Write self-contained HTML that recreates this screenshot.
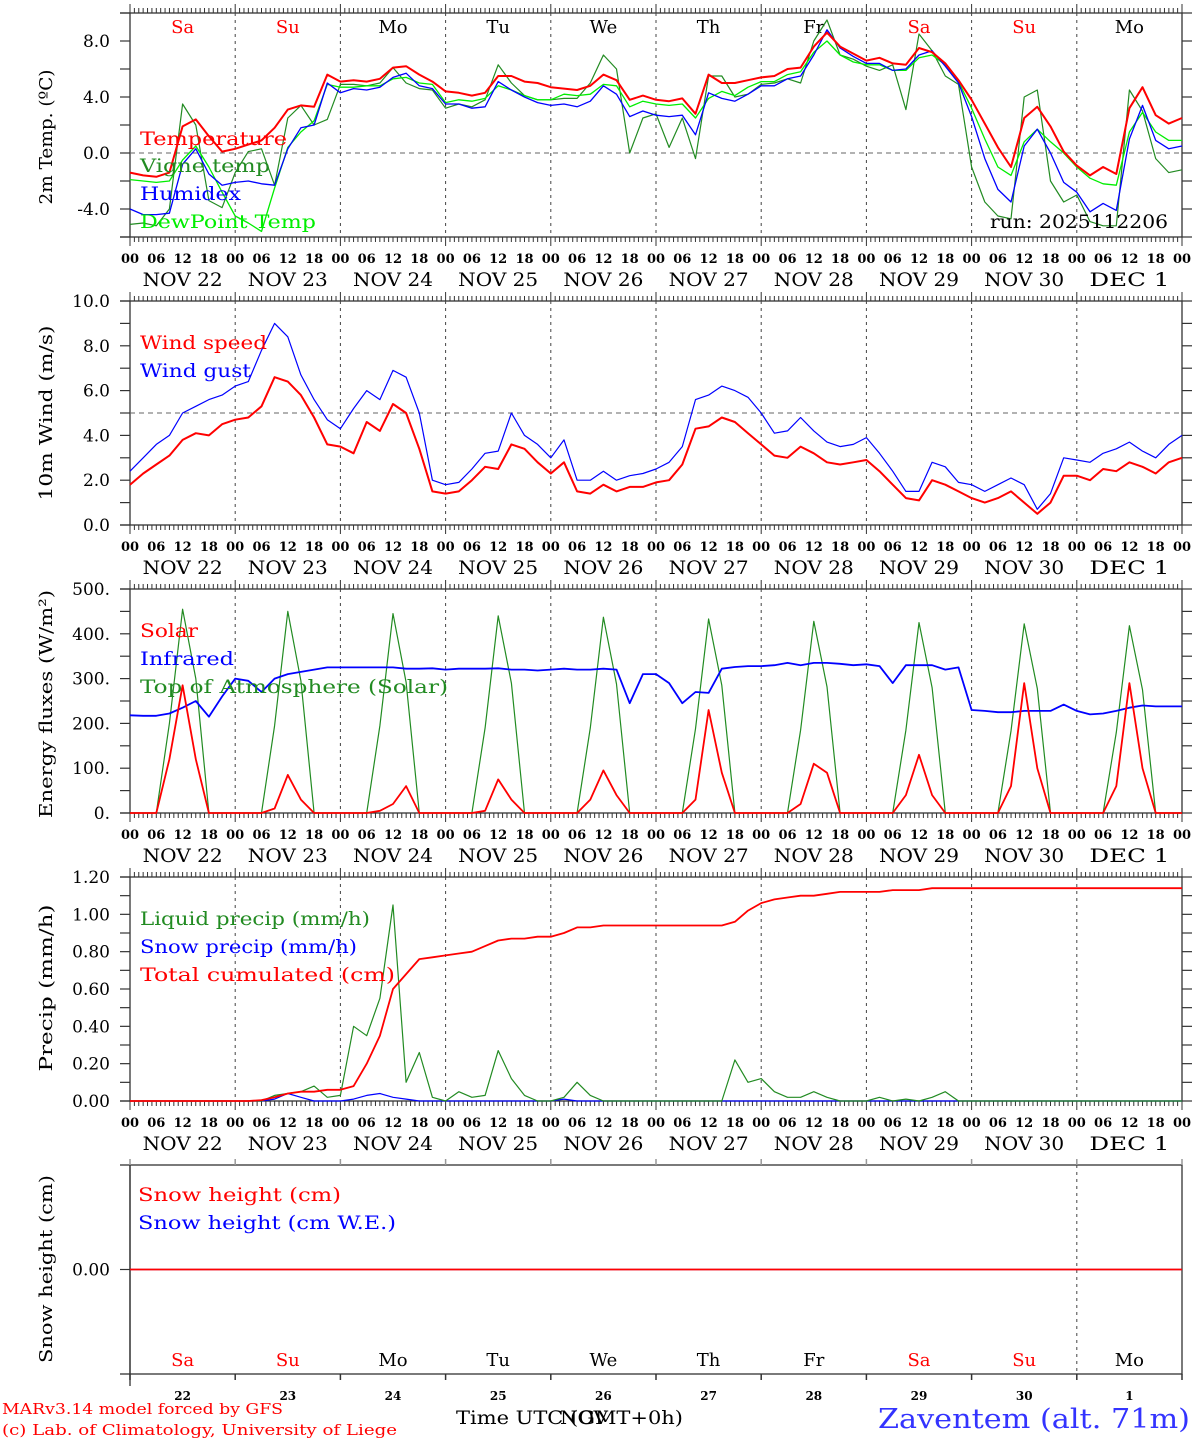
<!DOCTYPE html>
<html><head><meta charset="utf-8">
<style>
html,body{margin:0;padding:0;background:#fff;}
svg{display:block;font-family:"DejaVu Serif","Liberation Serif",serif;}
</style></head>
<body>
<svg id="chart" xmlns="http://www.w3.org/2000/svg" width="1194" height="1440" viewBox="0 0 1194 1440">
<rect x="0" y="0" width="1194" height="1440" fill="#fff"/>
<g id="grid"></g>
<g id="marks"></g>
<g id="labels">
<text x="140" y="145" fill="#ff0000" font-size="19" textLength="147" lengthAdjust="spacingAndGlyphs">Temperature</text>
<text x="140" y="172" fill="#228b22" font-size="19" textLength="130" lengthAdjust="spacingAndGlyphs">Vigne temp</text>
<text x="140" y="200" fill="#0000ff" font-size="19" textLength="101" lengthAdjust="spacingAndGlyphs">Humidex</text>
<text x="140" y="228" fill="#00ee00" font-size="19" textLength="176" lengthAdjust="spacingAndGlyphs">DewPoint Temp</text>
<text x="990" y="228" fill="#000" font-size="19" textLength="178" lengthAdjust="spacingAndGlyphs">run: 2025112206</text>
<text x="140" y="349" fill="#ff0000" font-size="19" textLength="127" lengthAdjust="spacingAndGlyphs">Wind speed</text>
<text x="140" y="377" fill="#0000ff" font-size="19" textLength="111" lengthAdjust="spacingAndGlyphs">Wind gust</text>
<text x="140" y="637" fill="#ff0000" font-size="19" textLength="58" lengthAdjust="spacingAndGlyphs">Solar</text>
<text x="140" y="665" fill="#0000ff" font-size="19" textLength="94" lengthAdjust="spacingAndGlyphs">Infrared</text>
<text x="140" y="693" fill="#228b22" font-size="19" textLength="308" lengthAdjust="spacingAndGlyphs">Top of Atmosphere (Solar)</text>
<text x="140" y="925" fill="#228b22" font-size="19" textLength="230" lengthAdjust="spacingAndGlyphs">Liquid precip (mm/h)</text>
<text x="140" y="953" fill="#0000ff" font-size="19" textLength="217" lengthAdjust="spacingAndGlyphs">Snow precip (mm/h)</text>
<text x="140" y="981" fill="#ff0000" font-size="19" textLength="255" lengthAdjust="spacingAndGlyphs">Total cumulated (cm)</text>
<text x="138" y="1201" fill="#ff0000" font-size="19" textLength="203" lengthAdjust="spacingAndGlyphs">Snow height (cm)</text>
<text x="138" y="1229" fill="#0000ff" font-size="19" textLength="258" lengthAdjust="spacingAndGlyphs">Snow height (cm W.E.)</text>
<text transform="translate(52,137) rotate(-90)" text-anchor="middle" font-size="18" textLength="135" lengthAdjust="spacingAndGlyphs">2m Temp. (ºC)</text>
<text transform="translate(52,413) rotate(-90)" text-anchor="middle" font-size="18" textLength="175" lengthAdjust="spacingAndGlyphs">10m Wind (m/s)</text>
<text transform="translate(52,704) rotate(-90)" text-anchor="middle" font-size="18" textLength="228" lengthAdjust="spacingAndGlyphs">Energy fluxes (W/m²)</text>
<text transform="translate(52,988) rotate(-90)" text-anchor="middle" font-size="18" textLength="167" lengthAdjust="spacingAndGlyphs">Precip (mm/h)</text>
<text transform="translate(52,1269) rotate(-90)" text-anchor="middle" font-size="18" textLength="188" lengthAdjust="spacingAndGlyphs">Snow height (cm)</text>
<text x="2" y="1414" fill="#ff0000" font-size="15" textLength="281" lengthAdjust="spacingAndGlyphs">MARv3.14 model forced by GFS</text>
<text x="2" y="1435" fill="#ff0000" font-size="15" textLength="395" lengthAdjust="spacingAndGlyphs">(c) Lab. of Climatology, University of Liege</text>
<text x="584" y="1424" fill="#000" font-size="19" text-anchor="middle" textLength="48" lengthAdjust="spacingAndGlyphs">NOV</text>
<text x="456" y="1424" fill="#000" font-size="19" textLength="227" lengthAdjust="spacingAndGlyphs">Time UTC (GMT+0h)</text>
<text x="1190" y="1428" fill="#3333ff" font-size="27" text-anchor="end" textLength="312" lengthAdjust="spacingAndGlyphs">Zaventem (alt. 71m)</text>
</g>
</svg>
<script>
// ---- data (3-hourly, forecast hours from 2025-11-22 00 UTC) ----
const HOURS = [0,3,6,9,12,15,18,21,24,27,30,33,36,39,42,45,48,51,54,57,60,63,66,69,72,75,78,81,84,87,90,93,96,99,102,105,108,111,114,117,120,123,126,129,132,135,138,141,144,147,150,153,156,159,162,165,168,171,174,177,180,183,186,189,192,195,198,201,204,207,210,213,216,219,222,225,228,231,234,237,240];
const DAY_NAMES = ["Sa","Su","Mo","Tu","We","Th","Fr","Sa","Su","Mo"];
const DAY_LABELS = ["NOV  22","NOV  23","NOV  24","NOV  25","NOV  26","NOV  27","NOV  28","NOV  29","NOV  30","DEC   1"];
const DAY_NUMS = ["22","23","24","25","26","27","28","29","30","1"];
const HOUR_LABELS = ["00","06","12","18"];

const tempVals = [-1.4,-1.6,-1.7,-1.4,1.9,2.4,1.2,0.1, 0.3,0.6,0.9,1.8,3.1,3.4,3.3,5.6, 5.1,5.2,5.1,5.3,6.1,6.2,5.6,5.1, 4.4,4.3,4.1,4.3,5.5,5.5,5.1,5.0, 4.7,4.6,4.5,4.8,5.6,5.2,3.8,4.1, 3.8,3.7,3.9,2.8,5.6,5.0,5.0,5.2, 5.4,5.5,6.0,6.1,7.6,8.6,7.6,7.1, 6.6,6.8,6.4,6.3,7.5,7.2,6.4,5.2, 3.8,2.1,0.4,-1.0,2.5,3.3,1.9,0.1, -0.9,-1.6,-1.0,-1.5,3.2,4.7,2.7,2.1,2.5];
const vigneVals = [-5.1,-5.0,-5.2,-4.0,3.5,2.0,-3.4,-3.9, -1.4,0.1,0.3,-2.3,2.5,3.4,2.0,2.4, 4.9,4.9,4.8,5.0,6.1,5.0,4.6,4.5, 3.2,3.5,3.3,3.8,6.3,5.0,4.1,3.8, 3.8,3.9,3.9,5.0,7.0,6.0,0.0,2.5, 2.8,0.4,2.5,-0.4,5.5,5.5,4.0,4.2, 4.9,5.0,5.3,5.0,8.0,9.5,7.0,6.7, 6.2,5.9,6.3,3.1,8.5,7.3,5.5,4.9, -1.0,-3.5,-4.5,-4.7,4.0,4.5,-2.0,-3.5, -3.0,-4.9,-5.2,-5.2,4.5,3.0,-0.4,-1.4,-1.2];
const humidexVals = [-4.0,-4.4,-4.4,-4.3,-0.8,0.3,-1.5,-2.3, -2.1,-2.0,-2.2,-2.3,0.3,1.8,2.0,5.0, 4.3,4.6,4.5,4.7,5.4,5.7,4.8,4.6, 3.5,3.5,3.2,3.3,5.1,4.5,4.0,3.6, 3.4,3.5,3.3,3.7,4.8,4.2,2.6,3.0, 2.7,2.6,2.7,1.3,4.3,3.9,3.7,4.2, 4.8,4.8,5.3,5.5,7.0,8.8,7.5,6.9, 6.4,6.4,5.9,6.0,7.0,7.3,6.2,5.0, 2.6,-0.4,-2.6,-3.5,0.5,1.7,0.0,-2.1, -2.8,-4.2,-3.6,-4.1,1.0,3.4,0.9,0.3,0.5];
const dewVals = [-1.9,-2.0,-2.1,-2.0,-0.5,0.5,-1.0,-2.8, -4.5,-5.0,-5.6,-2.5,0.4,1.5,2.3,4.9, 4.7,4.7,4.8,4.8,5.3,5.4,5.0,4.9, 3.6,3.8,3.7,3.9,4.8,4.5,4.1,3.8, 3.8,4.2,4.1,4.2,4.9,4.8,3.3,3.7, 3.5,3.4,3.5,2.5,3.9,4.4,4.1,4.7, 5.1,5.1,5.6,5.8,7.2,8.0,7.0,6.5, 6.3,6.3,5.9,5.9,6.8,7.0,6.3,5.1, 3.2,1.0,-1.0,-1.6,0.8,1.7,0.8,0.0, -1.0,-1.8,-2.2,-2.3,1.5,2.9,1.5,0.9,0.9];

const windVals = [1.8,2.3,2.7,3.1,3.8,4.1,4.0,4.5, 4.7,4.8,5.3,6.6,6.4,5.8,4.8,3.6, 3.5,3.2,4.6,4.2,5.4,5.0,3.4,1.5, 1.4,1.5,2.0,2.6,2.5,3.6,3.4,2.8, 2.3,2.8,1.5,1.4,1.8,1.5,1.7,1.7, 1.9,2.0,2.7,4.3,4.4,4.8,4.6,4.1, 3.6,3.1,3.0,3.5,3.2,2.8,2.7,2.8, 2.9,2.4,1.8,1.2,1.1,2.0,1.8,1.5, 1.2,1.0,1.2,1.5,1.0,0.5,1.0,2.2, 2.2,2.0,2.5,2.4,2.8,2.6,2.3,2.8,3.0];
const gustVals = [2.4,3.0,3.6,4.0,5.0,5.3,5.6,5.8, 6.2,6.4,7.8,9.0,8.4,6.7,5.6,4.7, 4.3,5.2,6.0,5.6,6.9,6.6,5.0,2.0, 1.8,1.9,2.5,3.2,3.3,5.0,4.0,3.6, 3.0,3.8,2.0,2.0,2.4,2.0,2.2,2.3, 2.5,2.8,3.5,5.6,5.8,6.2,6.0,5.7, 5.0,4.1,4.2,4.8,4.2,3.7,3.5,3.6, 3.9,3.2,2.4,1.5,1.5,2.8,2.6,1.9, 1.8,1.5,1.8,2.1,1.8,0.7,1.4,3.0, 2.9,2.8,3.2,3.4,3.7,3.3,3.0,3.6,4.0];

const solarVals = [0,0,0,120,285,120,0,0, 0,0,0,10,85,30,0,0, 0,0,0,5,20,60,0,0, 0,0,0,5,75,30,0,0, 0,0,0,30,95,40,0,0, 0,0,0,30,230,90,0,0, 0,0,0,20,110,90,0,0, 0,0,0,40,130,40,0,0, 0,0,0,60,290,100,0,0, 0,0,0,60,290,100,0,0,0];
const infraredVals = [218,217,217,222,235,250,215,260, 300,295,270,300,310,315,320,325, 325,325,325,325,325,322,322,323, 320,322,322,322,323,320,320,318, 320,322,320,320,322,320,245,310, 310,290,245,270,268,322,326,328, 328,330,335,330,335,335,333,330, 332,328,290,330,330,330,320,325, 230,228,225,225,228,228,228,242, 228,220,222,228,235,240,238,238,238];
const toaVals = [0,0,0,200,455,300,0,0, 0,0,0,195,450,295,0,0, 0,0,0,195,445,292,0,0, 0,0,0,190,440,290,0,0, 0,0,0,190,437,288,0,0, 0,0,0,188,433,285,0,0, 0,0,0,185,428,282,0,0, 0,0,0,185,425,280,0,0, 0,0,0,183,422,278,0,0, 0,0,0,180,418,275,0,0,0];

const liquidVals = [0,0,0,0,0,0,0,0, 0,0,0,0.03,0.04,0.05,0.08,0.02, 0.03,0.4,0.35,0.55,1.05,0.1,0.26,0.02, 0,0.05,0.02,0.03,0.27,0.12,0.03,0, 0,0.02,0.1,0.03,0,0,0,0, 0,0,0,0,0,0,0.22,0.1, 0.12,0.05,0.02,0.02,0.05,0.02,0,0, 0,0.02,0,0.01,0,0.02,0.05,0, 0,0,0,0,0,0,0,0, 0,0,0,0,0,0,0,0,0];
const snowPrecipVals = [0,0,0,0,0,0,0,0, 0,0,0,0.01,0.04,0.02,0,0, 0,0.01,0.03,0.04,0.02,0.01,0,0, 0,0,0,0,0,0,0,0, 0,0.01,0,0,0,0,0,0, 0,0,0,0,0,0,0,0, 0,0,0,0,0,0,0,0, 0,0,0,0,0,0,0,0, 0,0,0,0,0,0,0,0, 0,0,0,0,0,0,0,0,0];
const totalVals = [0,0,0,0,0,0,0,0, 0,0,0.005,0.02,0.04,0.05,0.05,0.06, 0.06,0.08,0.2,0.35,0.6,0.68,0.76,0.77, 0.78,0.79,0.80,0.83,0.86,0.87,0.87,0.88, 0.88,0.90,0.93,0.93,0.94,0.94,0.94,0.94, 0.94,0.94,0.94,0.94,0.94,0.94,0.96,1.02, 1.06,1.08,1.09,1.10,1.10,1.11,1.12,1.12, 1.12,1.12,1.13,1.13,1.13,1.14,1.14,1.14, 1.14,1.14,1.14,1.14,1.14,1.14,1.14,1.14, 1.14,1.14,1.14,1.14,1.14,1.14,1.14,1.14,1.14];
const snowHeightVals = [0,0,0,0,0,0,0,0,0,0,0,0,0,0,0,0,0,0,0,0,0,0,0,0,0,0,0,0,0,0,0,0,0,0,0,0,0,0,0,0,0,0,0,0,0,0,0,0,0,0,0,0,0,0,0,0,0,0,0,0,0,0,0,0,0,0,0,0,0,0,0,0,0,0,0,0,0,0,0,0,0];
const snowWEVals = [0,0,0,0,0,0,0,0,0,0,0,0,0,0,0,0,0,0,0,0,0,0,0,0,0,0,0,0,0,0,0,0,0,0,0,0,0,0,0,0,0,0,0,0,0,0,0,0,0,0,0,0,0,0,0,0,0,0,0,0,0,0,0,0,0,0,0,0,0,0,0,0,0,0,0,0,0,0,0,0,0];

const TEMP_TICKS = [-4,0,4,8];
const WIND_TICKS = [0,2,4,6,8,10];
const ENERGY_TICKS = [0,100,200,300,400,500];
const PRECIP_TICKS = [0,0.2,0.4,0.6,0.8,1.0,1.2];

// ---- layout ----
const NS = "http://www.w3.org/2000/svg";
const X0 = 130, X1 = 1182, HMAX = 240;
function xs(h){ return X0 + (X1 - X0) * h / HMAX; }
function mkScale(top, bot, min, max){ return v => bot - (v - min) / (max - min) * (bot - top); }
const panels = [
  {key:"temp", top:13, bot:237, y:mkScale(13,237,-6,10), ticks:TEMP_TICKS, minor:2, min:-6, max:10, fmt:v=>v.toFixed(1), dash:0},
  {key:"wind", top:301, bot:525, y:mkScale(301,525,0,10), ticks:WIND_TICKS, minor:1, min:0, max:10, fmt:v=>v.toFixed(1), dash:5},
  {key:"energy", top:589, bot:813, y:mkScale(589,813,0,500), ticks:ENERGY_TICKS, minor:50, min:0, max:500, fmt:v=>v+".", dash:null},
  {key:"precip", top:877, bot:1101, y:mkScale(877,1101,0,1.2), ticks:PRECIP_TICKS, minor:0.1, min:0, max:1.2, fmt:v=>v.toFixed(2), dash:null},
  {key:"snow", top:1165, bot:1374, y:mkScale(1165,1374,-1,1), ticks:[0], minor:null, min:-1, max:1, fmt:v=>v.toFixed(2), dash:null}
];
const grid = document.getElementById("grid");
const marks = document.getElementById("marks");

function el(tag, attrs, parent){
  const e = document.createElementNS(NS, tag);
  for (const k in attrs) e.setAttribute(k, attrs[k]);
  parent.appendChild(e);
  return e;
}
function txt(parent, x, y, s, size, fill, anchor){
  const t = el("text", {x:x, y:y, "font-size":size, fill:fill, "text-anchor":anchor}, parent);
  t.textContent = s;
  return t;
}

panels.forEach((p, pi) => {
  const g = el("g", {}, grid);
  
  
  const fr = el("rect", {x:X0, y:p.top, width:X1-X0, height:p.bot-p.top, fill:"none", stroke:"#333", "stroke-width":1.3}, g);
  
  
  const lt = el("line", {x1:120, x2:X0, y1:p.top, y2:p.top, stroke:"#333", "stroke-width":1.3}, g);
  
  
  const lb = el("line", {x1:120, x2:X0, y1:p.bot, y2:p.bot, stroke:"#333", "stroke-width":1.3}, g);
  
  
  if (p.minor){
    const n = Math.round((p.max - p.min) / p.minor);
    for (let i = 0; i <= n; i++){
      const v = p.min + i * p.minor;
      const yy = p.y(v);
      const t1 = el("line", {x1:120, x2:X0, y1:yy, y2:yy, stroke:"#333", "stroke-width":1.2}, g);
      
      
      const t2 = el("line", {x1:X1, x2:1192, y1:yy, y2:yy, stroke:"#333", "stroke-width":1.2}, g);
      
      
    }
  }
  p.ticks.forEach(v => {
    const yy = p.y(v);
    const tl = txt(g, 110, yy + 6, p.fmt(v), 17, "#000", "end");
    
    
    if (pi === 4){
      const t1 = el("line", {x1:120, x2:X0, y1:yy, y2:yy, stroke:"#333", "stroke-width":1.2}, g);
      
      
    }
  });
  if (p.dash !== null){
    const dl = el("line", {x1:X0, x2:X1, y1:p.y(p.dash), y2:p.y(p.dash), stroke:"#666", "stroke-width":1, "stroke-dasharray":"5,4"}, g);
    
    
  }
  if (pi < 4){
    for (let h = 0; h <= HMAX; h++){
      const xx = xs(h);
      const L = (h % 24 === 0) ? 9 : 5;
      const a = el("line", {x1:xx, x2:xx, y1:p.top - L, y2:p.top, stroke:"#333", "stroke-width":1}, g);
      
      
      const b = el("line", {x1:xx, x2:xx, y1:p.bot, y2:p.bot + L, stroke:"#333", "stroke-width":1}, g);
      
      
    }
    for (let d = 0; d < 10; d++){
      if (d > 0){
        const v = el("line", {x1:xs(d*24), x2:xs(d*24), y1:p.top, y2:p.bot, stroke:"#444", "stroke-width":1, "stroke-dasharray":"3,4"}, g);
        
        
      }
      for (let k = 0; k < 4; k++){
        const hl = txt(g, xs(d*24 + k*6), p.bot + 26, HOUR_LABELS[k], 13, "#000", "middle");
        hl.setAttribute('font-weight', 'bold');
        
        
      }
      const dl = txt(g, xs(d*24 + 12), p.bot + 49, DAY_LABELS[d], 19, "#000", "middle");
      dl.setAttribute('textLength', '80');
      dl.setAttribute('lengthAdjust', 'spacingAndGlyphs');
      
      
    }
    const last = txt(g, xs(HMAX), p.bot + 26, "00", 13, "#000", "middle");
    last.setAttribute('font-weight', 'bold');
    
    
  } else {
    const ax = el("line", {x1:X0, x2:X0, y1:p.top, y2:1386, stroke:"#333", "stroke-width":1.3}, g);
    
    
    for (let d = 0; d <= 10; d++){
      const xx = xs(d*24);
      const a = el("line", {x1:xx, x2:xx, y1:p.top - 6, y2:p.top, stroke:"#999", "stroke-width":1.5}, g);
      
      
      const b = el("line", {x1:xx, x2:xx, y1:p.bot, y2:p.bot + 6, stroke:"#333", "stroke-width":1.5}, g);
      
      
    }
    const v = el("line", {x1:xs(216), x2:xs(216), y1:p.top, y2:p.bot, stroke:"#444", "stroke-width":1, "stroke-dasharray":"3,4"}, g);
    
    
    for (let d = 0; d < 10; d++){
      const dn = txt(g, xs(d*24 + 12), 1366, DAY_NAMES[d], 18, (d===0||d===1||d===7||d===8) ? "#ff0000" : "#000", "middle");
      
      
      const nm = txt(g, xs(d*24 + 12), 1400, DAY_NUMS[d], 12, "#000", "middle");
      nm.setAttribute('font-weight', 'bold');
      
      
    }
  }
});
for (let d = 0; d < 10; d++){
  const dn = txt(grid, xs(d*24 + 12), 33, DAY_NAMES[d], 18, (d===0||d===1||d===7||d===8) ? "#ff0000" : "#000", "middle");
  
  
}

function drawLine(vals, p, color, w, name){
  const pts = vals.map((v, i) => xs(HOURS[i]).toFixed(1) + "," + p.y(v).toFixed(1)).join(" ");
  const pl = el("polyline", {points:pts, fill:"none", stroke:color, "stroke-width":w, "stroke-linejoin":"round"}, marks);
  
  
}
drawLine(vigneVals, panels[0], "#228b22", 1.2, "vigne-temp-line");
drawLine(dewVals, panels[0], "#00ee00", 1.3, "dewpoint-line");
drawLine(humidexVals, panels[0], "#0000ff", 1.3, "humidex-line");
drawLine(tempVals, panels[0], "#ff0000", 2, "temperature-line");
drawLine(gustVals, panels[1], "#0000ff", 1.2, "wind-gust-line");
drawLine(windVals, panels[1], "#ff0000", 2, "wind-speed-line");
drawLine(toaVals, panels[2], "#228b22", 1.2, "toa-solar-line");
drawLine(infraredVals, panels[2], "#0000ff", 1.8, "infrared-line");
drawLine(solarVals, panels[2], "#ff0000", 1.8, "solar-line");
drawLine(snowPrecipVals, panels[3], "#0000ff", 1.2, "snow-precip-line");
drawLine(liquidVals, panels[3], "#228b22", 1.2, "liquid-precip-line");
drawLine(totalVals, panels[3], "#ff0000", 1.8, "total-cumulated-line");
drawLine(snowWEVals, panels[4], "#0000ff", 1.2, "snow-height-we-line");
drawLine(snowHeightVals, panels[4], "#ff0000", 1.8, "snow-height-line");
</script>
</body></html>
